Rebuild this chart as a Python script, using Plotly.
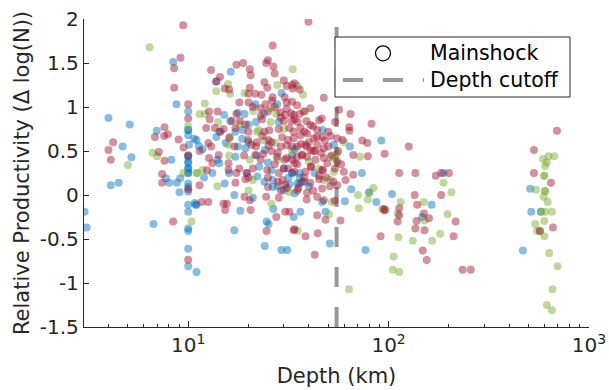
import plotly.graph_objects as go

# ---- data (depth in km, relative productivity) ----
blue_depth = [8.41, 8.74, 10.0, 4.0, 5.11, 6.97, 10.0, 10.0, 10.7, 11.0, 4.71, 10.1, 5.21, 8.25, 10.0, 10.0,
              10.0, 10.0, 10.0, 7.74, 8.04, 8.78, 9.12, 4.11, 4.5, 10.0, 10.0, 10.0, 9.05, 10.0, 10.9, 10.0,
              3.04, 3.11, 6.71, 10.0, 10.0, 10.0, 10.0, 11.0,
              16.3, 13.8, 29.2, 21.6, 27.8, 15.1, 17.7, 19.1, 23.9, 16.2, 20.0, 21.8, 28.3, 14.3, 18.7,
              13.8, 17.2, 18.6, 11.3, 11.8, 15.4, 17.7, 19.3, 24.1, 34.0, 14.3, 17.2, 25.0, 33.0, 13.2,
              22.6, 22.1, 26.4, 31.7, 19.6, 15.2, 26.4, 17.0, 11.0, 10.8, 21.0, 18.2, 26.6, 24.6, 25.2,
              17.0, 24.1, 29.2, 31.2,
              46.8, 53.3, 64.1, 92.0, 33.0, 36.0, 42.7, 73.5, 35.0, 38.0, 65.1, 80.1, 46.6, 60.5, 86.9,
              36.3, 33.6, 48.4, 50.9, 76.7,
              104, 188, 164, 147, 509, 515, 575, 468,
              10.0, 10.0, 10.0, 10.0, 33.0, 36.0,
              28, 30, 32, 34, 36, 30, 26, 24, 40, 22, 20, 16, 14, 12]
blue_prod = [1.51, 1.03, 0.95, 0.875, 0.80, 0.73, 0.74, 0.68, 0.64, 0.625, 0.55, 0.57, 0.43, 0.40, 0.435, 0.38,
             0.36, 0.30, 0.25, 0.19, 0.14, 0.14, 0.19, 0.11, 0.14, 0.13, 0.09, 0.04, 0.03, -0.11, -0.11, -0.19,
             -0.19, -0.37, -0.33, -0.38, -0.41, -0.61, -0.81, -0.875,
             1.40, 1.29, 1.16, 1.03, 1.03, 0.91, 0.935, 0.92, 0.93, 0.84, 0.80, 0.83, 0.83, 0.72, 0.74,
             0.66, 0.72, 0.64, 0.56, 0.52, 0.59, 0.55, 0.53, 0.51, 0.52, 0.36, 0.435, 0.37, 0.45, 0.25,
             0.32, 0.21, 0.17, 0.20, 0.25, 0.13, 0.09, 0.0, -0.11, -0.09, -0.03, -0.18, -0.16, -0.30, -0.33,
             -0.40, -0.58, -0.625, -0.625,
             0.74, 0.57, 0.55, 0.62, 0.25, 0.25, 0.25, 0.25, 0.13, 0.15, 0.065, 0.03, -0.08, -0.07, -0.08,
             -0.19, -0.25, -0.19, -0.55, -0.625,
             0.01, 0.25, -0.11, -0.25, 0.07, -0.19, -0.19, -0.63,
             0.74, 0.45, 0.30, 0.25, 0.25, 0.13,
             0.10, 0.05, 0.12, 0.02, 0.20, 0.30, 0.28, 0.15, 0.10, 0.45, 0.60, 0.25, 0.40, 0.20]

green_depth = [6.41, 11.4, 10.0, 6.63, 7.0, 5.0, 9.48, 11.1, 10.4,
               33.2, 15.8, 13.8, 16.2, 27.8, 19.1, 12.1, 12.1, 21.1, 26.0, 27.5, 14.1, 25.8, 22.5,
               16.2, 22.1, 27.2, 15.9, 20.3, 11.0, 11.8, 21.0, 32.0,
               35.2, 37.4, 38.3, 71.9, 51.3, 53.3, 55.4, 47.5, 51.3, 53.3, 83.9, 79.7, 70.3, 78.8, 52.1,
               93.0, 71.0, 50.4, 35.2, 63.4,
               188, 206, 115, 150, 94.8, 111, 151, 197, 112, 132, 165, 181, 106, 105, 113,
               589, 629, 671, 615, 605, 598, 598, 543, 603, 603, 594, 622, 605, 653, 575, 539, 598, 550, 569,
               598, 633, 697, 658, 617, 653,
               18, 24, 30, 33, 40, 45, 28, 16, 20, 26, 14, 60]
green_prod = [1.68, 0.92, 0.78, 0.48, 0.44, 0.34, 0.25, 0.25, -0.30,
              1.43, 1.26, 1.18, 1.15, 1.25, 1.16, 1.04, 0.92, 0.955, 0.985, 0.92, 0.83, 0.83, 0.74,
              0.66, 0.72, 0.59, 0.57, 0.40, 0.25, 0.285, 0.17, 0.03,
              1.24, 1.14, 0.95, 0.435, 0.435, 0.42, 0.47, 0.17, 0.17, 0.265, 0.08, 0.025, 0.0, -0.05, -0.08,
              -0.16, -0.15, -0.22, -0.405, -1.07,
              0.14, 0.03, -0.08, -0.08, -0.18, -0.21, -0.29, -0.22, -0.48, -0.52, -0.52, -0.44, -0.70, -0.85, -0.875,
              0.41, 0.44, 0.44, 0.37, 0.33, 0.22, 0.22, 0.06, 0.045, 0.045, -0.02, -0.08, -0.19, -0.19, -0.19, -0.33, -0.295, -0.41, -0.41,
              -0.47, -0.66, -0.81, -1.07, -1.25, -1.31,
              0.80, 0.62, 0.75, 0.50, 0.38, 0.30, 0.40, 0.45, 0.05, -0.10, 0.10, 0.60]

red_depth = [9.44, 9.15, 8.51, 8.51, 10.0, 10.0, 7.61, 7.92, 7.59, 6.82, 8.95, 4.22, 4.0, 9.48, 11.4, 7.14,
             4.11, 7.61, 10.0, 7.41, 7.41, 11.4, 10.0, 8.41, 10.0,
             26.4, 13.0, 17.4, 18.8, 24.5, 25.0, 26.6, 20.3, 20.5, 14.4, 13.8, 15.2, 16.0, 20.3, 24.8, 21.6,
             23.2, 26.4, 31.0, 33.2, 30.3, 20.0, 24.3, 26.2, 31.0, 33.0, 12.7, 17.4, 23.0, 28.8, 30.5, 32.7,
             12.8, 16.5, 18.1, 19.3, 23.4, 30.0, 32.8, 12.3, 13.6, 17.2, 20.0, 25.4, 28.3, 32.0,
             14.5, 19.9, 23.4, 25.2, 29.4, 31.5, 33.6, 12.6, 20.7, 21.8, 25.2, 31.0, 12.7, 13.2, 14.2, 15.9,
             21.6, 23.7, 27.7, 30.3, 12.4, 15.9, 17.4, 19.6, 20.0, 24.8, 28.3, 29.6, 33.8, 17.2, 19.3, 25.0,
             11.7, 12.6, 15.0, 15.6, 15.3, 19.1, 20.3, 24.5, 28.3, 20.5, 27.5, 30.5, 32.0, 24.6, 33.9,
             39.8, 33.0, 33.9, 47.5, 35.0, 40.7, 37.7, 56.6, 64.6, 46.4, 54.1, 63.6, 82.2, 63.8, 33.6, 35.2,
             38.9, 40.7, 36.3, 44.0,
             33.6, 36.3, 39.2, 42.3, 46.6, 51.3, 55.4, 58.9, 73.9, 78.3, 66.6, 78.8, 35.0, 38.5, 40.7, 44.0,
             47.5, 35.0, 39.2, 43.2, 47.5, 49.4, 55.4, 38.5, 46.6, 59.8, 66.6, 61.0, 40.7, 46.6, 55.4, 39.2,
             44.0, 47.5, 53.9, 96.3, 44.0, 48.4, 57.5, 33.6, 38.5, 44.3, 42.8, 91.2,
             95.5, 126, 113, 136, 172, 183, 200, 183, 135, 139, 113, 113, 94.8, 150, 159, 111, 138, 216,
             136, 151, 211, 148, 155, 234, 257,
             692, 531, 531, 646, 661, 569,
             28.0, 30.0, 34.0, 38.0, 42.0, 26.0, 30.5, 36.5, 41.0, 45.0, 29.0, 33.0, 37.0, 31.5, 35.5,
             21, 23, 25, 27, 29, 31, 34, 36, 38, 40, 42, 44, 46, 48, 50, 52, 54, 56, 58, 22, 24, 26, 27, 29,
             31, 33, 35, 37, 39, 41, 43, 45, 47, 49, 51, 53, 35, 37, 39, 42, 31, 28, 25, 23, 21, 19, 18, 17,
             16, 15, 14, 13, 18, 20, 30, 36, 27, 24, 45, 50]
red_prod = [1.93, 1.56, 1.44, 1.22, 1.03, 0.87, 0.77, 0.69, 0.67, 0.66, 0.63, 0.60, 0.51, 0.54, 0.50, 0.49,
            0.40, 0.39, 0.45, 0.24, 0.14, 0.11, 0.065, -0.30, -0.735,
            1.70, 1.42, 1.48, 1.50, 1.50, 1.53, 1.46, 1.43, 1.36, 1.34, 1.29, 1.21, 1.20, 1.22, 1.22, 1.15,
            1.14, 1.11, 1.24, 1.21, 1.11, 1.05, 1.03, 1.07, 1.05, 1.06, 0.95, 0.92, 0.985, 0.94, 0.91, 0.93,
            0.86, 0.84, 0.845, 0.80, 0.86, 0.84, 0.84, 0.76, 0.76, 0.76, 0.72, 0.735, 0.75, 0.76,
            0.72, 0.625, 0.67, 0.625, 0.655, 0.625, 0.645, 0.59, 0.57, 0.55, 0.56, 0.565, 0.42, 0.36, 0.455, 0.36,
            0.455, 0.465, 0.435, 0.40, 0.28, 0.285, 0.25, 0.25, 0.20, 0.285, 0.25, 0.17, 0.265, 0.14, 0.18, 0.09,
            -0.08, -0.08, -0.10, -0.10, -0.17, -0.02, -0.06, -0.02, -0.03, -0.17, -0.25, -0.19, -0.19, -0.41, -0.39,
            1.97, 1.25, 1.27, 1.105, 1.02, 0.985, 0.95, 0.97, 0.92, 0.87, 0.83, 0.77, 0.81, 0.73, 0.91, 0.83,
            0.84, 0.795, 0.76, 0.74,
            0.72, 0.68, 0.70, 0.645, 0.66, 0.67, 0.645, 0.625, 0.62, 0.59, 0.455, 0.44, 0.55, 0.57, 0.51, 0.57,
            0.53, 0.435, 0.435, 0.40, 0.42, 0.36, 0.38, 0.265, 0.285, 0.265, 0.23, 0.17, 0.14, 0.075, 0.11, 0.025,
            -0.02, -0.06, -0.065, -0.17, -0.23, -0.28, -0.29, -0.40, -0.47, -0.435, -0.68, -0.47,
            0.47, 0.55, 0.25, 0.25, 0.22, 0.25, 0.25, 0.0, 0.0, -0.11, -0.15, -0.23, -0.16, -0.21, -0.265, -0.30, -0.295, -0.30,
            -0.38, -0.40, -0.47, -0.63, -0.74, -0.85, -0.85,
            0.73, 0.51, 0.25, 0.14, -0.37, -0.41,
            0.48, 0.30, 0.36, 0.20, 0.50, 0.60, 0.12, 0.58, 0.32, 0.22, 0.05, 0.40, 0.46, 0.30, 0.08,
            1.00, 0.90, 0.95, 1.00, 0.88, 0.98, 0.86, 0.92, 0.72, 0.60, 0.78, 0.66, 0.48, 0.62, 0.55, 0.45, 0.30, 0.50, 0.35,
            0.60, 0.72, 0.50, 0.35, 0.55, 0.42, 0.55, 0.35, 0.45, 0.55, 0.32, 0.50, 0.18, 0.28, 0.20, 0.10, 0.15,
            0.05, 0.15, -0.05, 0.05, 0.08, 0.15, 0.20, 0.40, 0.30, 0.45, 0.30, 0.55, 0.65, 0.75, 0.95, 0.55,
            1.05, 1.15, 1.30, 1.20, 1.38, 1.28, 0.85, 0.72]

cutoff_depth = 55
y_ticks = [-1.5, -1, -0.5, 0, 0.5, 1, 1.5, 2]
y_ticktext = ["-1.5", "-1", "-0.5", "0", "0.5", "1", "1.5", "2"]
x_ticks = [10, 100, 1000]
x_ticktext = ["10<sup>1</sup>", "10<sup>2</sup>", "10<sup>3</sup>"]
x_minor = [4, 5, 6, 7, 8, 9, 20, 30, 40, 50, 60, 70, 80, 90,
           200, 300, 400, 500, 600, 700, 800, 900]
legend_labels = ["Mainshock", "Depth cutoff"]

TXT = "#262626"
FONT = "DejaVu Sans"
FS = 20
W, H = 609, 390
ML, MR, MT, MB = 84, 20, 19, 63
PW, PH = W - ML - MR, H - MT - MB


def px(x):
    return (x - ML) / PW


def py(y):
    return 1 - (y - MT) / PH


fig = go.Figure()

# depth cutoff line (behind the points)
fig.add_trace(go.Scatter(
    x=[cutoff_depth, cutoff_depth], y=[y_ticks[0], y_ticks[-1]], mode="lines",
    line=dict(color="#999999", width=4, dash="20px,20px"),
    name="Depth cutoff", showlegend=False, hoverinfo="skip"))

for xs, ys, col in [(blue_depth, blue_prod, "#0072bd"),
                    (green_depth, green_prod, "#77ac30"),
                    (red_depth, red_prod, "#a2142f")]:
    fig.add_trace(go.Scatter(
        x=xs, y=ys, mode="markers", showlegend=False,
        marker=dict(size=8, color=col, opacity=0.47, line=dict(width=0))))

# ---- legend box drawn by hand (MATLAB-style spacing) ----
shapes = [
    dict(type="rect", xref="paper", yref="paper", x0=px(335), x1=px(570), y0=py(97), y1=py(37),
         fillcolor="white", line=dict(color=TXT, width=1), layer="above"),
    dict(type="circle", xref="paper", yref="paper", x0=px(375.5), x1=px(390.5), y0=py(60.8), y1=py(45.8),
         line=dict(color="black", width=1.3), layer="above"),
    dict(type="line", xref="paper", yref="paper", x0=px(343), x1=px(424), y0=py(80), y1=py(80),
         line=dict(color="#999999", width=4, dash="20px,20px"), layer="above"),
]
annotations = [
    dict(text=legend_labels[0], xref="paper", yref="paper", x=px(428), y=py(53.3),
         xanchor="left", yanchor="middle", showarrow=False,
         font=dict(family=FONT, size=20.5, color="black")),
    dict(text=legend_labels[1], xref="paper", yref="paper", x=px(428), y=py(80),
         xanchor="left", yanchor="middle", showarrow=False,
         font=dict(family=FONT, size=20.5, color="black")),
]

fig.update_layout(
    width=W, height=H,
    margin=dict(l=ML, r=MR, t=MT, b=MB),
    plot_bgcolor="white", paper_bgcolor="white",
    font=dict(family=FONT, size=FS, color=TXT),
    showlegend=False,
    shapes=shapes, annotations=annotations,
)
fig.update_xaxes(
    type="log", range=[0.48, 3], tickvals=x_ticks, ticktext=x_ticktext,
    showline=True, linecolor=TXT, linewidth=1.3, mirror=False, automargin=False,
    ticks="inside", ticklen=6, tickcolor=TXT, tickwidth=1,
    showgrid=False, zeroline=False,
    minor=dict(ticks="inside", ticklen=3, tickcolor=TXT, tickvals=x_minor, showgrid=False),
    title=dict(text="Depth (km)", font=dict(size=21, color=TXT), standoff=12),
    tickfont=dict(size=FS, color=TXT))
fig.update_yaxes(
    range=[-1.5, 2], tickvals=y_ticks, ticktext=y_ticktext,
    showline=True, linecolor=TXT, linewidth=1.3, mirror=False, automargin=False,
    ticks="inside", ticklen=5, tickcolor=TXT, tickwidth=1,
    showgrid=False, zeroline=False,
    title=dict(text="Relative Productivity (Δ log(N))", font=dict(size=21, color=TXT), standoff=4),
    tickfont=dict(size=FS, color=TXT))

fig.write_html("out.html")
